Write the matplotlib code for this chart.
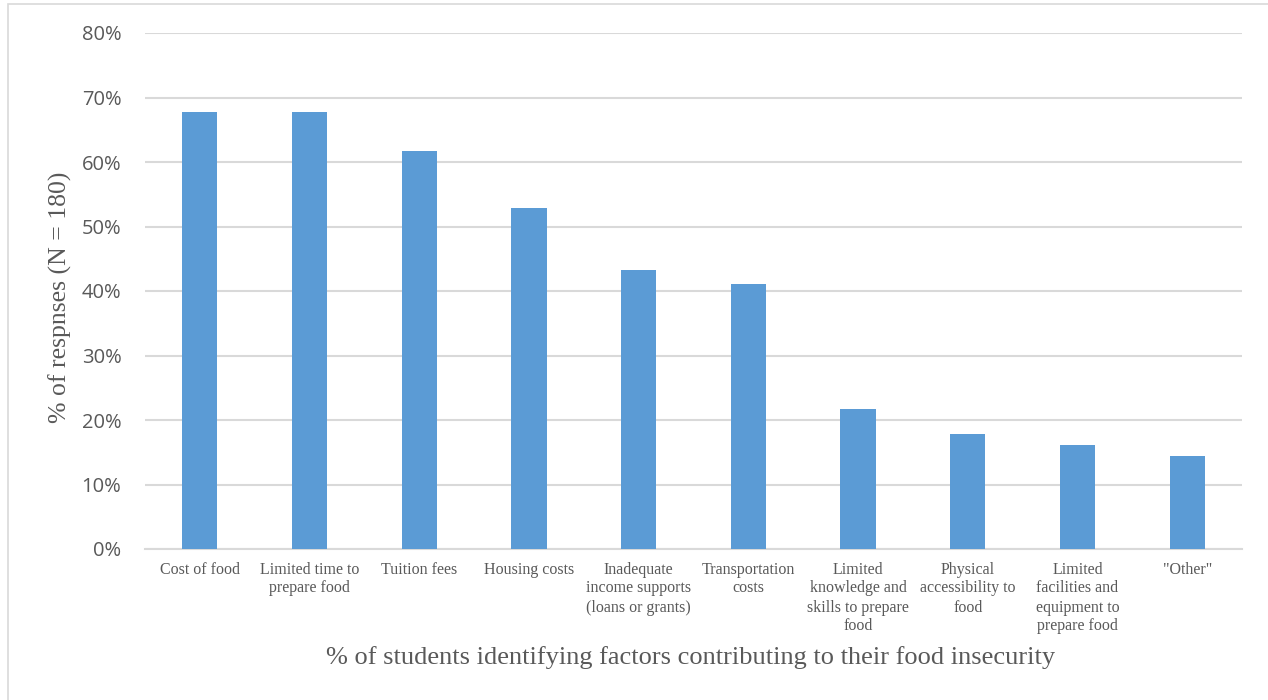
import numpy as np
import matplotlib.pyplot as plt
from matplotlib.patches import Rectangle

# Factors contributing to food insecurity (N = 180)
categories = [
    "Cost of food",
    "Limited time to\nprepare food",
    "Tuition fees",
    "Housing costs",
    "Inadequate\nincome supports\n(loans or grants)",
    "Transportation\ncosts",
    "Limited\nknowledge and\nskills to prepare\nfood",
    "Physical\naccessibility to\nfood",
    "Limited\nfacilities and\nequipment to\nprepare food",
    "\"Other\"",
]
values = [0.678, 0.678, 0.617, 0.528, 0.433, 0.411, 0.217, 0.178, 0.161, 0.144]
y_ticks = [0.0, 0.1, 0.2, 0.3, 0.4, 0.5, 0.6, 0.7, 0.8]

text_color = "#595959"
bar_color = "#5B9BD5"
grid_color = "#D9D9D9"

fig = plt.figure(figsize=(12.68, 7.0), dpi=100)
ax = fig.add_axes([145/1268, 1 - 549/700, (1242 - 145)/1268, (549 - 33)/700])

x = np.arange(len(categories))
ax.bar(x, values, width=0.32, color=bar_color, zorder=3)

ax.set_xlim(-0.5, len(categories) - 0.5)
ax.set_ylim(0, 0.8)
ax.set_yticks(y_ticks)
ax.set_yticklabels([f"{int(round(t*100))}%" for t in y_ticks],
                   fontfamily="Open Sans", fontsize=14.5, color=text_color)
ax.yaxis.grid(True, color=grid_color, linewidth=1.5, zorder=0)
ax.set_axisbelow(True)

ax.set_xticks(x)
ax.set_xticklabels(categories, fontfamily="Liberation Serif", fontsize=11.5,
                   color=text_color, linespacing=1.25, va="top")
ax.tick_params(axis="both", length=0)
ax.tick_params(axis="x", pad=9)
ax.tick_params(axis="y", pad=17)

for side in ["top", "right", "left"]:
    ax.spines[side].set_visible(False)
ax.spines["bottom"].set_color(grid_color)
ax.spines["bottom"].set_linewidth(1.5)

fig.text(691/1268, 1 - 658/700, "% of students identifying factors contributing to their food insecurity",
         ha="center", va="center", fontfamily="Liberation Serif", fontsize=19, color=text_color)
fig.text(60/1268, 1 - 297/700, "% of respnses (N = 180)", rotation=90,
         ha="center", va="center", fontfamily="Liberation Serif", fontsize=18.5, color=text_color)

# light chart-area border
fig.patches.append(Rectangle((8/1268, -0.01), 1.0, 1 - 3.5/700 + 0.01,
                             transform=fig.transFigure, fill=False,
                             edgecolor=grid_color, linewidth=1.2))

fig.savefig("out.png", dpi=100)
